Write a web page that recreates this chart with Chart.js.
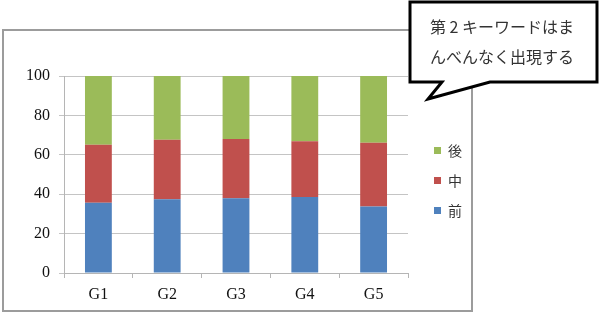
<!DOCTYPE html>
<html>
<head>
<meta charset="utf-8">
<script src="https://cdn.jsdelivr.net/npm/chart.js@4/dist/chart.umd.min.js"></script>
<style>
  html, body { margin: 0; padding: 0; background: #fff; }
  #page { position: relative; width: 600px; height: 314px; overflow: hidden; }
  #frame { position: absolute; left: 2px; top: 29px; width: 471px; height: 283px; box-sizing: border-box; border: 2px solid #9c9c9c; }
  #chart { position: absolute; left: 0; top: 0; }
  #callout { position: absolute; left: 0; top: 0; }
</style>
</head>
<body>
<div id="page">
  <div id="frame"></div>
  <canvas id="chart" width="600" height="314"></canvas>
  <svg id="callout" width="600" height="314">
    <path d="M410,2 H597 V82 H490 L428,99 L442,82 H410 Z" fill="#fff" stroke="#000" stroke-width="3" stroke-linejoin="miter"/>
    <text x="430" y="33" font-family="Noto Sans CJK JP" font-size="16" fill="#333">第 2 キーワードはま</text>
    <text x="430" y="63" font-family="Noto Sans CJK JP" font-size="16" fill="#333">んべんなく出現する</text>
  </svg>
</div>
<script>
// グループ
const groups = ['G1', 'G2', 'G3', 'G4', 'G5'];
// 系列名
const seriesNames = ['前', '中', '後'];
// 値 (%)
const mae = [35.7, 37.4, 37.9, 38.6, 33.7];
const naka = [29.4, 30.3, 30.1, 28.3, 32.4];
const ato = [34.9, 32.3, 32.0, 33.1, 33.9];

const colors = ['#4F81BD', '#C0504D', '#9BBB59'];
const values = [mae, naka, ato];

const ctx = document.getElementById('chart').getContext('2d');
new Chart(ctx, {
    type: 'bar',
    data: {
        labels: groups,
        datasets: seriesNames.map((name, i) => ({
            label: name,
            data: values[i],
            backgroundColor: colors[i],
            borderWidth: 0,
            categoryPercentage: 1,
            barPercentage: 0.39
        }))
    },
    options: {
        responsive: false,
        animation: false,
        layout: { padding: { left: 0, top: 76, right: 128, bottom: 0 } },
        plugins: {
            tooltip: { enabled: false },
            legend: {
                position: 'right',
                fullSize: false,
                reverse: true,
                title: { display: true, text: ' ', padding: 0, font: { size: 10 } },
                labels: {
                    boxWidth: 7,
                    boxHeight: 7,
                    padding: 16,
                    color: '#333',
                    font: { family: 'Noto Sans CJK JP', size: 14 }
                }
            }
        },
        scales: {
            x: {
                stacked: true,
                grid: { drawOnChartArea: false, tickLength: 5, color: '#b5b5b5', offset: true },
                border: { color: '#b5b5b5' },
                ticks: { padding: 7, color: '#111', font: { family: 'Liberation Serif', size: 16 } },
                afterFit: s => { s.height = 41; }
            },
            y: {
                stacked: true,
                min: 0,
                max: 100,
                grid: { tickLength: 5, color: '#c4c4c4' },
                border: { color: '#b5b5b5' },
                ticks: { stepSize: 20, padding: 9, color: '#111', font: { family: 'Liberation Serif', size: 16 } },
                afterFit: s => { s.width = 64; }
            },
            gap: {
                type: 'linear',
                axis: 'y',
                position: 'right',
                display: true,
                grid: { display: false },
                border: { display: false },
                ticks: { display: false },
                afterFit: s => { s.width = 10; }
            }
        }
    }
});
</script>
</body>
</html>
